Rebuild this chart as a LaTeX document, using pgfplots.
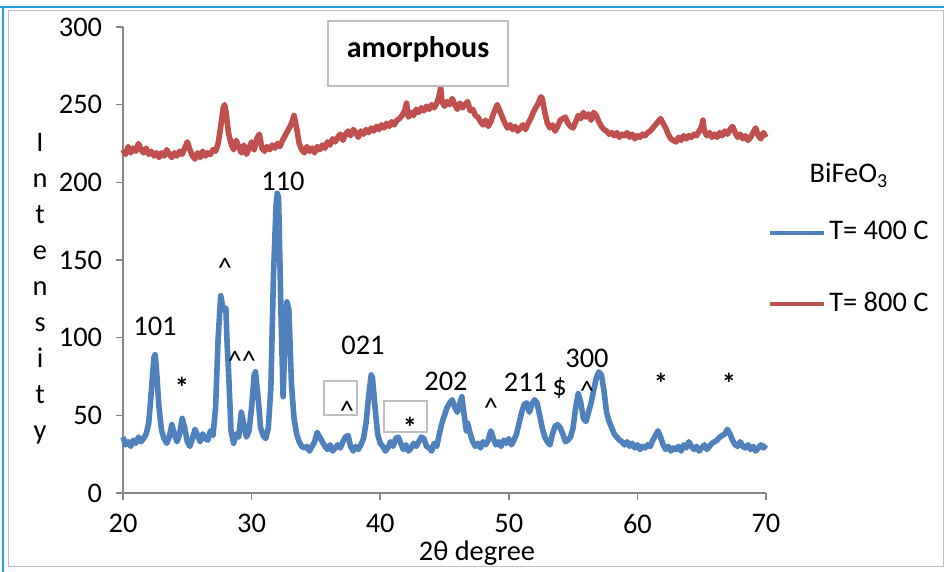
\documentclass[border=0pt]{standalone}
\usepackage{pgfplots}
\pgfplotsset{compat=1.18}
\usepackage{fontspec}
\setmainfont{Carlito}
\definecolor{xblue}{HTML}{4F81BD}
\definecolor{xred}{HTML}{C0504D}
\definecolor{axgray}{HTML}{868686}
\definecolor{boxgray}{HTML}{BFBFBF}
\definecolor{scrcyan}{HTML}{1BA1E2}
\begin{document}
\fontsize{14.2}{17}\selectfont
\begin{tikzpicture}
\useasboundingbox (0,0) rectangle (472pt,286pt);
\begin{axis}[
  at={(61.5pt,39.5pt)}, anchor=south west,
  scale only axis, width=321.5pt, height=233pt,
  xmin=20, xmax=70, ymin=0, ymax=300,
  axis x line=bottom, axis y line=left,
  axis line style={-, draw=axgray, line width=0.8pt},
  tick align=outside, major tick length=3.5pt,
  tick style={draw=axgray, line width=0.8pt},
  xtick={20,30,...,70}, ytick={0,50,...,300},
  /pgf/number format/assume math mode=true,
  xticklabel style={yshift=-2pt},
  yticklabel style={xshift=-2pt},
  clip=false,
  legend style={at={(1.003,0.59)}, anchor=north west, draw=none, fill=none,
    row sep=21pt, inner sep=0pt, nodes={inner sep=1.5pt}},
  legend cell align=left,
  legend image code/.code={\draw[#1, line width=2pt] (0pt,0pt) -- (27pt,0pt);},
]
\addplot[xblue, line width=2.8pt, line join=round, no markers] table {
x y
20.0 36
20.2 31
20.4 33
20.6 30
20.8 34
21.0 32
21.2 36
21.4 33
21.6 35
21.8 38
22.0 45
22.2 65
22.4 87
22.5 89
22.6 80
22.8 55
23.0 40
23.2 35
23.4 32
23.6 36
23.8 44
24.0 38
24.2 33
24.4 38
24.6 48
24.8 42
25.0 33
25.2 30
25.4 35
25.6 41
25.8 37
26.0 33
26.2 38
26.4 35
26.6 34
26.8 40
27.0 37
27.2 55
27.4 100
27.6 127
27.8 118
28.0 119
28.1 95
28.2 80
28.4 40
28.6 32
28.8 38
29.0 36
29.2 52
29.4 44
29.6 36
29.8 40
30.0 55
30.2 76
30.3 78
30.5 62
30.7 42
30.9 37
31.1 35
31.3 42
31.5 68
31.7 140
31.9 185
32.0 193
32.1 190
32.3 110
32.45 62
32.6 100
32.75 123
32.9 118
33.1 70
33.3 48
33.5 38
33.7 33
33.9 30
34.1 29
34.3 30
34.5 27
34.7 30
34.9 33
35.1 39
35.3 36
35.5 33
35.7 30
35.9 28
36.1 31
36.3 27
36.5 29
36.7 31
36.9 29
37.1 33
37.3 36
37.5 37
37.7 30
37.9 27
38.1 30
38.3 28
38.5 31
38.7 35
38.9 45
39.1 62
39.3 76
39.4 74
39.6 55
39.8 38
40.0 32
40.2 30
40.4 27
40.6 29
40.8 33
41.0 30
41.2 35
41.4 36
41.6 32
41.8 28
42.0 31
42.2 27
42.4 29
42.6 32
42.8 30
43.0 33
43.2 36
43.4 35
43.6 30
43.8 29
44.0 27
44.2 32
44.4 30
44.6 38
44.8 45
45.0 50
45.2 55
45.4 58
45.6 60
45.8 55
46.0 52
46.2 58
46.35 62
46.5 52
46.7 40
46.8 45
47.0 38
47.2 33
47.4 30
47.6 32
47.8 29
48.0 33
48.2 31
48.4 34
48.6 40
48.8 35
49.0 31
49.2 33
49.4 30
49.6 34
49.8 32
50.0 35
50.2 31
50.4 34
50.6 38
50.8 45
51.0 52
51.2 57
51.4 58
51.6 52
51.8 57
52.0 60
52.2 58
52.4 50
52.6 42
52.8 36
53.0 33
53.2 31
53.4 38
53.6 43
53.8 44
54.0 42
54.2 38
54.4 33
54.6 34
54.8 36
55.0 42
55.2 55
55.4 64
55.6 58
55.8 48
56.0 46
56.2 52
56.4 58
56.6 66
56.8 74
57.0 78
57.2 76
57.4 66
57.6 52
57.8 46
58.0 42
58.2 38
58.4 36
58.6 34
58.8 33
59.0 31
59.2 33
59.4 30
59.6 32
59.8 29
60.0 31
60.2 28
60.4 30
60.6 29
60.8 31
61.0 30
61.2 34
61.4 37
61.6 40
61.8 36
62.0 31
62.2 28
62.4 30
62.6 27
62.8 29
63.0 28
63.2 30
63.4 27
63.6 31
63.8 29
64.0 33
64.2 30
64.4 28
64.6 30
64.8 27
65.0 29
65.2 31
65.4 28
65.6 30
65.8 32
66.0 33
66.2 34
66.4 36
66.6 37
66.8 38
67.0 41
67.2 38
67.4 34
67.6 31
67.8 30
68.0 33
68.2 30
68.4 29
68.6 31
68.8 28
69.0 30
69.2 27
69.4 29
69.6 31
69.8 29
70.0 31
};
\addlegendentry{T= 400 C}
\addplot[xred, line width=2.8pt, line join=round, no markers] table {
x y
20.0 221
20.2 218
20.4 223
20.6 219
20.8 222
21.0 220
21.2 225
21.4 221
21.6 219
21.8 222
22.0 218
22.2 220
22.4 217
22.6 219
22.8 216
23.0 219
23.2 217
23.4 221
23.6 218
23.8 216
24.0 219
24.2 217
24.4 220
24.6 218
24.8 222
25.0 226
25.2 221
25.4 217
25.6 215
25.8 219
26.0 216
26.2 220
26.4 217
26.6 219
26.8 218
27.0 221
27.2 220
27.4 225
27.6 236
27.8 248
27.9 250
28.0 246
28.2 232
28.4 225
28.6 221
28.8 227
29.0 223
29.2 219
29.4 224
29.6 218
29.8 222
30.0 226
30.2 221
30.4 228
30.6 231
30.8 222
31.0 220
31.2 223
31.4 221
31.6 224
31.8 222
32.0 225
32.2 223
32.4 227
32.6 230
32.8 233
33.0 236
33.2 240
33.3 243
33.5 235
33.7 225
33.9 221
34.1 219
34.3 223
34.5 220
34.7 222
34.9 219
35.1 223
35.3 221
35.5 224
35.7 222
35.9 226
36.1 224
36.3 228
36.5 226
36.7 229
36.9 231
37.1 227
37.3 231
37.5 233
37.7 230
37.9 234
38.1 232
38.3 229
38.5 233
38.7 231
38.9 234
39.1 232
39.3 235
39.5 233
39.7 236
39.9 234
40.1 237
40.3 235
40.5 238
40.7 236
40.9 239
41.1 237
41.3 240
41.5 241
41.7 243
41.9 246
42.05 251
42.2 242
42.4 245
42.6 243
42.8 247
43.0 245
43.2 248
43.4 246
43.6 249
43.8 247
44.0 250
44.2 248
44.4 251
44.6 256
44.7 261
44.8 252
45.0 249
45.2 252
45.4 250
45.6 254
45.8 250
46.0 247
46.2 251
46.4 248
46.6 250
46.8 252
47.0 246
47.2 247
47.4 243
47.6 242
47.8 239
48.0 237
48.2 240
48.4 236
48.6 239
48.8 244
49.0 248
49.1 250
49.3 246
49.5 242
49.7 238
49.9 235
50.1 237
50.3 234
50.5 236
50.7 233
50.9 235
51.1 237
51.3 234
51.5 238
51.7 241
51.9 245
52.1 248
52.3 251
52.5 255
52.6 254
52.8 245
53.0 238
53.2 235
53.4 237
53.6 233
53.8 236
54.0 240
54.2 241
54.4 242
54.6 238
54.8 236
55.0 235
55.2 239
55.4 243
55.6 241
55.8 245
56.0 242
56.2 244
56.4 240
56.6 245
56.8 243
57.0 239
57.2 236
57.4 234
57.6 233
57.8 231
58.0 232
58.2 230
58.4 232
58.6 229
58.8 231
59.0 230
59.2 232
59.4 229
59.6 231
59.8 228
60.0 230
60.2 229
60.4 231
60.6 230
60.8 232
61.0 233
61.2 235
61.4 237
61.6 239
61.8 241
62.0 238
62.2 235
62.4 231
62.6 228
62.8 227
63.0 226
63.2 229
63.4 227
63.6 230
63.8 228
64.0 230
64.2 229
64.4 231
64.6 230
64.8 233
65.0 236
65.1 240
65.2 233
65.4 230
65.6 232
65.8 229
66.0 231
66.2 229
66.4 232
66.6 230
66.8 233
67.0 231
67.2 234
67.4 236
67.6 232
67.8 229
68.0 231
68.2 228
68.4 230
68.6 227
68.8 229
69.0 232
69.2 235
69.4 230
69.6 228
69.8 232
70.0 229
};
\addlegendentry{T= 800 C}
% annotations
\draw[boxgray, line width=0.8pt, fill=white] (axis cs:35.94,303.9) rectangle (axis cs:49.94,262.1);
\node[font=\fontsize{15}{18}\bfseries] at (axis cs:42.94,285.9) {amorphous};
\node at (axis cs:22.49,107.5) {101};
\node[yshift=-2.5pt, font=\fontsize{14.2}{17}\bfseries] at (axis cs:24.59,71.5) {*};
\node[yshift=-3pt] at (axis cs:27.93,148.7) {\textasciicircum};
\node[yshift=-3pt] at (axis cs:29.25,88.9) {\textasciicircum\textasciicircum};
\node at (axis cs:32.44,200.9) {110};
\node at (axis cs:38.66,95.3) {021};
\draw[boxgray, line width=0.8pt] (axis cs:35.63,72.1) rectangle (axis cs:38.20,50.2);
\node[yshift=-3pt] at (axis cs:37.42,56.7) {\textasciicircum};
\draw[boxgray, line width=0.8pt] (axis cs:40.30,59.2) rectangle (axis cs:43.64,39.3);
\node[yshift=-2.5pt, font=\fontsize{14.2}{17}\bfseries] at (axis cs:42.32,45.7) {*};
\node at (axis cs:45.12,72.1) {202};
\node[yshift=-3pt] at (axis cs:48.62,58.6) {\textasciicircum};
\node at (axis cs:51.30,71.5) {211};
\node at (axis cs:53.95,67.6) {\$};
\node[yshift=-3pt] at (axis cs:56.08,69.5) {\textasciicircum};
\node at (axis cs:56.08,86.9) {300};
\node[yshift=-2.5pt, font=\fontsize{14.2}{17}\bfseries] at (axis cs:61.84,74.0) {*};
\node[yshift=-2.5pt, font=\fontsize{14.2}{17}\bfseries] at (axis cs:67.12,74.0) {*};
% legend title
\node at (rel axis cs:1.129,0.682) {BiFeO\textsubscript{3}};
% axis labels
\node[align=center, font=\fontsize{14.2}{18}\selectfont] at (rel axis cs:-0.129,0.438) {I\\n\\t\\e\\n\\s\\i\\t\\y};
\node at (rel axis cs:0.5505,-0.1288) {2θ degree};
\end{axis}
\draw[boxgray, line width=0.5pt] (4pt,2.5pt) rectangle (471.5pt,280.5pt);
\draw[scrcyan, line width=1pt] (0pt,282.5pt) -- (472pt,282.5pt);
\draw[scrcyan, line width=1pt] (1.5pt,0pt) -- (1.5pt,282.5pt);
\end{tikzpicture}
\end{document}
